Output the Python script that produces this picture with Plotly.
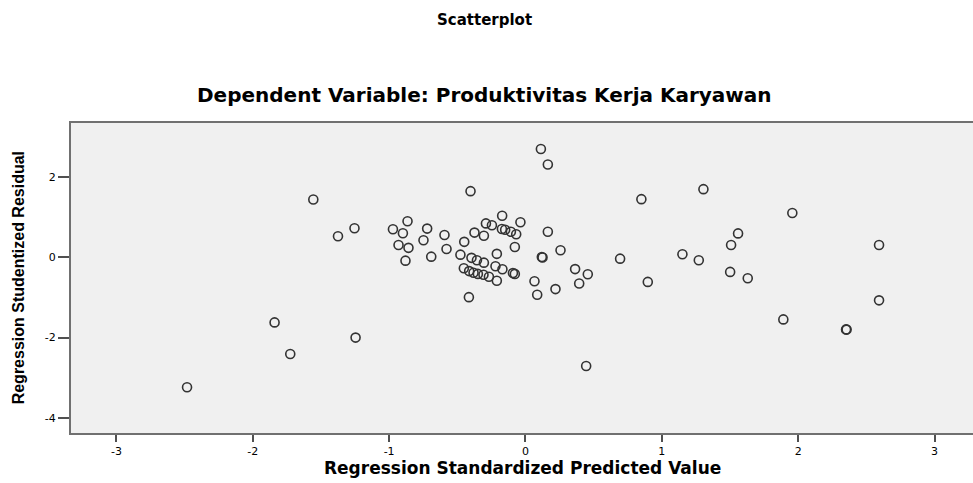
import plotly.graph_objects as go

# Regression Standardized Predicted Value (x) and Regression Studentized Residual (y)
pred = [0.113, 0.164, -0.403, -1.556, 0.850, 1.305, 1.957, -1.254, -1.375, -0.865,
        -0.972, -0.899, -0.721, -0.748, -0.594, -0.931, -0.858, -0.880, -0.691, -0.579,
        -0.449, -0.374, -0.305, -0.290, -0.246, -0.171, -0.173, -0.149, -0.107, -0.068,
        -0.037, -0.078, -0.210, 0.164, 0.257, 0.120, 0.125, -0.477, -0.396, -0.356,
        -0.305, -0.220, -0.169, -0.092, -0.078, -0.452, -0.413, -0.381, -0.349, -0.308,
        -0.268, -0.210, 0.066, 0.086, 0.220, 0.364, 0.457, 0.394, -0.415, 1.559,
        1.508, 2.593, 0.694, 1.151, 1.271, 1.501, 1.630, 0.897, 2.593, 1.891,
        2.351, 2.355, -1.840, -1.246, -1.725, -2.482, 0.445]
resid = [2.705, 2.32, 1.655, 1.448, 1.455, 1.705, 1.11, 0.73, 0.53, 0.905,
         0.705, 0.605, 0.72, 0.43, 0.56, 0.31, 0.24, -0.08, 0.02, 0.21,
         0.39, 0.62, 0.54, 0.85, 0.805, 1.04, 0.71, 0.69, 0.64, 0.58,
         0.88, 0.26, 0.09, 0.64, 0.18, 0.01, 0.0, 0.07, -0.01, -0.07,
         -0.13, -0.22, -0.295, -0.39, -0.41, -0.27, -0.34, -0.38, -0.41, -0.43,
         -0.48, -0.58, -0.595, -0.93, -0.79, -0.29, -0.42, -0.65, -0.99, 0.60,
         0.31, 0.31, -0.03, 0.08, -0.07, -0.36, -0.52, -0.61, -1.07, -1.545,
         -1.795, -1.80, -1.62, -2.00, -2.41, -3.24, -2.71]

x_ticks = [-3, -2, -1, 0, 1, 2, 3]
x_tick_labels = ["-3", "-2", "-1", "0", "1", "2", "3"]
y_ticks = [-4, -2, 0, 2]
y_tick_labels = ["-4", "-2", "0", "2"]

title_text = "Scatterplot"
subtitle_text = "Dependent Variable: Produktivitas Kerja Karyawan"
x_title = "Regression Standardized Predicted Value"
y_title = "Regression Studentized Residual"

fig = go.Figure()
fig.add_trace(go.Scatter(
    x=pred, y=resid, mode="markers",
    marker=dict(symbol="circle-open", size=9, color="#333333", line=dict(width=1.6, color="#333333")),
    hoverinfo="x+y", showlegend=False,
))

axis_common = dict(
    showgrid=False, zeroline=False, showline=True, linewidth=2, linecolor="#707070",
    ticks="outside", tickcolor="#505050", tickwidth=1.5,
    tickfont=dict(family="DejaVu Sans", size=11, color="#000000"),
)

fig.update_layout(
    width=973, height=483,
    margin=dict(l=71, r=0, t=123, b=50),
    paper_bgcolor="white", plot_bgcolor="#f0f0f0",
    xaxis=dict(range=[-3.333, 3.282], tickvals=x_ticks, ticktext=x_tick_labels,
               ticklen=7, mirror=True, **axis_common),
    yaxis=dict(range=[-4.38, 3.355], tickvals=y_ticks, ticktext=y_tick_labels,
               ticklen=11, mirror=False, **axis_common),
    annotations=[
        dict(text="<b>" + title_text + "</b>", xref="paper", yref="paper", x=0.458, y=1.333,
             xanchor="center", yanchor="middle", showarrow=False,
             font=dict(family="DejaVu Sans", size=15, color="#000000")),
        dict(text="<b>" + subtitle_text + "</b>", xref="paper", yref="paper", x=0.458, y=1.0905,
             xanchor="center", yanchor="middle", showarrow=False,
             font=dict(family="DejaVu Sans", size=20, color="#000000")),
        dict(text="<b>" + x_title + "</b>", xref="paper", yref="paper", x=0.501, y=-0.112,
             xanchor="center", yanchor="middle", showarrow=False,
             font=dict(family="DejaVu Sans", size=17, color="#000000")),
        dict(text="<b>" + y_title + "</b>", xref="paper", yref="paper", x=-0.0588, y=0.502,
             xanchor="center", yanchor="middle", showarrow=False, textangle=-90,
             font=dict(family="Liberation Sans", size=16, color="#000000")),
    ],
)

# remove the default page margin so the figure fills the 973x483 window exactly
fig.write_html("out.html",
               config={"displayModeBar": False},
               post_script="document.body.style.margin='0';document.body.style.overflow='hidden';")
